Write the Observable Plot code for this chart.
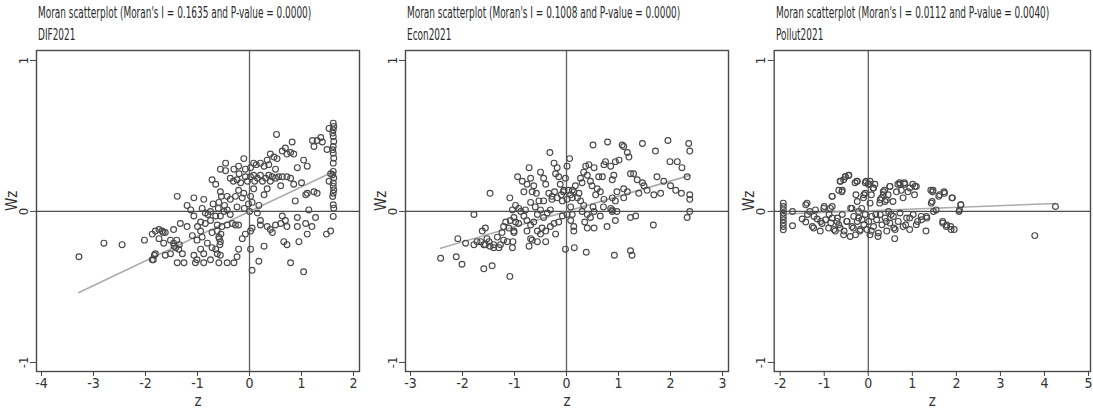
<!DOCTYPE html>
<html><head><meta charset="utf-8">
<script src="https://cdn.jsdelivr.net/npm/d3@7"></script>
<script src="https://cdn.jsdelivr.net/npm/@observablehq/plot@0.6"></script>
<style>
body{margin:0;background:#fff;}
#chart{position:relative;width:1093px;height:414px;overflow:hidden;background:#fff;font-family:"Liberation Sans Narrow","Arial Narrow","DejaVu Sans Condensed","Liberation Sans",sans-serif;}
.panel{position:absolute;top:0;}
.panel svg{overflow:visible;}
.title{position:absolute;top:2px;font-size:16px;line-height:22px;color:#2a2a2a;white-space:nowrap;transform-origin:0 0;}
</style></head><body><div id="chart"></div>
<script>
const panelNames = ["DIF2021", "Econ2021", "Pollut2021"];
const moranI = [0.1635, 0.1008, 0.0112];
const pValues = ["0.0000", "0.0000", "0.0040"];
const fitIntercepts = [0, 0, 0.005];
const xTicks = [[-4,-3,-2,-1,0,1,2], [-3,-2,-1,0,1,2,3], [-2,-1,0,1,2,3,4,5]];
const yTicks = [-1, 0, 1];
const xDomains = [[-4.096, 2.115], [-3.096, 3.115], [-2.136, 5.045]];
const yDomain = [-1.06, 1.066];

// [z, Wz]
const difPoints = [
[-3.28,-0.30],[-2.80,-0.21],[-2.45,-0.22],[-2.02,-0.19],[-1.87,-0.15],[-1.74,-0.12],[-1.66,-0.14],[-1.83,-0.29],[-1.85,-0.32],
[1.61,0.585],[1.62,0.563],[1.61,0.541],[1.60,0.519],[1.61,0.497],[1.62,0.464],[1.61,0.43],[1.60,0.408],[1.61,0.386],[1.62,0.353],[1.61,0.32],[1.61,0.265],[1.60,0.243],[1.62,0.221],[1.61,0.188],[1.61,0.166],[1.62,0.143],[1.61,0.121],[1.60,0.099],[1.61,0.044],[1.62,0.022],[1.61,-0.033],
[1.53,0.55],[1.49,0.41],[1.56,0.25],[1.53,0.20],[1.48,-0.15],[1.56,-0.13],[1.30,0.47],[1.37,0.49],[1.40,0.46],[1.24,0.43],[1.21,0.47],[0.52,0.51],[0.82,0.46],[0.69,0.42],[0.63,0.40],[0.72,0.38],[0.79,0.39],[0.85,0.38],[0.53,0.35],[0.47,0.36],[0.40,0.38],[0.34,0.34],[0.37,0.31],[0.28,0.30],[0.21,0.32],[0.13,0.31],[0.08,0.32],[0.02,0.29],[-0.08,0.28],[-0.11,0.35],[-0.21,0.30],[-0.30,0.28],[-0.37,0.22],[-0.31,0.20],[-0.24,0.21],[-0.17,0.19],[-0.08,0.23],[-0.04,0.20],[0.02,0.23],[0.08,0.24],[0.15,0.22],[0.21,0.24],[0.31,0.22],[0.37,0.24],[0.44,0.23],[0.50,0.22],[0.56,0.23],[0.63,0.23],[0.72,0.23],[0.79,0.22],[0.85,0.18],[0.92,0.29],[1.04,0.34],[1.11,0.30],[1.08,0.11],[1.24,0.13],[1.11,0.12],[0.88,0.07],[1.14,0.01],[1.27,-0.04],[1.08,-0.08],[0.92,-0.10],[1.11,-0.15],[0.79,-0.34],[1.04,-0.40],[0.66,-0.20],[0.72,-0.22],[0.44,-0.14],[0.34,-0.10],[0.21,-0.06],[0.15,-0.01],[0.18,0.04],[0.28,0.11],[0.34,0.15],[0.08,0.15],[0.02,0.10],[0.05,0.06],[-0.11,0.12],[-0.14,0.09],[-0.21,0.14],[-0.27,0.10],[-0.24,0.03],[-0.37,0.08],[-0.43,0.10],[-0.48,0.04],[-0.54,0.10],[-0.59,0.06],[-0.56,0.13],[-0.65,0.18],[-0.72,0.21],[-0.46,0.32],[-0.46,0.27],[-0.56,0.28],[-0.88,0.08],[-1.07,0.09],[-1.39,0.10],[-1.20,0.04],[-1.13,0.01],[-0.91,0.02],[-0.85,-0.01],[-0.75,0.00],[-0.65,-0.03],[-0.56,-0.03],[-0.49,0.00],[-0.43,0.01],[-0.37,-0.02],[-0.33,-0.08],[-0.27,-0.09],[-0.21,-0.09],[-0.43,-0.09],[-0.53,-0.10],[-0.62,-0.09],[-0.75,-0.06],[-0.85,-0.08],[-0.94,-0.07],[-1.07,-0.03],[-1.20,-0.10],[-1.33,-0.08],[-1.46,-0.12],[-1.62,-0.14],[-1.68,-0.13],[-1.81,-0.13],[-1.74,-0.18],[-1.65,-0.21],[-1.52,-0.19],[-1.46,-0.21],[-1.42,-0.24],[-1.36,-0.25],[-1.29,-0.28],[-1.26,-0.34],[-1.39,-0.34],[-1.52,-0.28],[-1.62,-0.29],[-1.81,-0.28],[-1.87,-0.32],[-1.07,-0.29],[-1.01,-0.32],[-1.04,-0.34],[-0.94,-0.25],[-0.88,-0.28],[-0.81,-0.21],[-0.72,-0.24],[-0.62,-0.28],[-0.56,-0.29],[-0.59,-0.34],[-0.43,-0.34],[-0.30,-0.34],[-0.24,-0.30],[-0.21,-0.25],[-0.14,-0.18],[-0.08,-0.15],[0.02,-0.13],[0.05,-0.11],[0.02,-0.25],[0.05,-0.39],[0.18,-0.33],[0.28,-0.23],[0.40,-0.12],[0.50,-0.09],[0.60,-0.08],[0.63,-0.03],[0.69,-0.06],[0.72,-0.10],[0.92,-0.04],[0.21,-0.09],[-0.94,-0.13],[-0.91,-0.17],[-1.01,-0.19],[-0.88,-0.34],[-0.75,-0.32],[-0.65,-0.25],[-0.56,-0.20],[-0.59,-0.17],[-0.62,-0.13],[-0.72,-0.14],
[-0.57,-0.22],[-0.58,-0.18],[-0.55,-0.15],[-1.45,-0.23],[-1.40,-0.19],[-1.35,-0.22],[-0.10,0.02],[0.00,0.00],[-0.02,0.05],[0.10,0.20],[0.40,0.20],[0.50,0.28],[0.60,0.17],[0.25,0.20],[-0.20,0.25],[-0.60,0.02],[-0.70,0.05],[-0.80,-0.02],[-1.00,-0.10],[-1.10,-0.16],[1.30,0.12],[1.00,0.19],[0.95,-0.20],[1.20,-0.10]
];

const econPoints = [
[-2.42,-0.31],[-2.12,-0.30],[-2.01,-0.35],[-2.09,-0.18],[-1.94,-0.21],[-1.78,-0.02],[-1.47,0.12],[-1.59,-0.38],[-1.43,-0.36],[-1.09,-0.43],[-1.78,-0.22],[-1.65,-0.20],[-1.62,-0.13],[-1.56,-0.11],[-1.53,-0.18],[-1.56,-0.22],[-1.47,-0.23],[-1.40,-0.22],[-1.30,-0.24],[-1.33,-0.17],[-1.24,-0.14],[-1.21,-0.19],[-1.14,-0.20],[-1.04,-0.24],[-1.03,-0.20],[-1.01,-0.14],[-1.08,-0.06],[-1.04,0.01],[-0.98,0.04],[-1.09,0.09],[-0.94,0.23],[-0.85,0.20],[-0.82,0.13],[-0.76,0.18],[-0.72,0.29],[-0.69,0.22],[-0.66,0.13],[-0.63,0.17],[-0.58,0.12],[-0.53,0.07],[-0.50,0.01],[-0.56,-0.02],[-0.63,-0.07],[-0.69,-0.09],[-0.76,-0.06],[-0.82,-0.03],[-0.88,0.00],[-0.92,-0.08],[-0.98,-0.07],[-1.17,-0.07],[-1.21,-0.10],[-1.11,-0.11],[-1.01,-0.13],[-0.76,-0.13],[-0.69,-0.18],[-0.72,-0.23],[-0.56,-0.13],[-0.47,-0.11],[-0.44,-0.04],[-0.37,-0.01],[-0.31,0.01],[-0.28,0.08],[-0.34,0.12],[-0.40,0.18],[-0.44,0.22],[-0.32,0.39],[-0.24,0.32],[-0.21,0.25],[-0.18,0.29],[-0.15,0.23],[-0.12,0.18],[-0.10,0.11],[-0.08,0.07],[-0.05,0.14],[-0.02,0.22],[0.01,0.30],[0.06,0.35],[0.01,0.08],[0.08,0.03],[0.11,-0.02],[0.14,0.13],[0.17,0.17],[0.21,0.09],[0.24,0.12],[0.27,0.22],[0.30,0.19],[0.33,0.26],[0.37,0.30],[0.40,0.24],[0.43,0.31],[0.46,0.20],[0.49,0.17],[0.53,0.29],[0.56,0.11],[0.59,0.15],[0.65,0.13],[0.69,0.23],[0.72,0.31],[0.62,0.23],[0.75,0.33],[0.85,0.30],[0.88,0.21],[0.91,0.24],[0.94,0.33],[1.01,0.34],[1.07,0.44],[1.10,0.43],[1.17,0.39],[1.20,0.36],[1.23,0.25],[1.29,0.25],[1.36,0.21],[1.46,0.19],[1.46,0.45],[1.71,0.40],[1.74,0.23],[1.87,0.20],[1.95,0.47],[1.99,0.33],[2.13,0.33],[2.22,0.29],[2.35,0.45],[2.37,0.40],[2.32,0.23],[2.37,0.11],[2.37,0.08],[2.37,0.00],[2.32,-0.04],[2.00,0.17],[2.10,0.14],[2.21,0.12],[1.81,0.12],[1.68,0.11],[1.39,0.12],[1.17,0.13],[1.10,0.09],[0.94,0.07],[0.88,0.09],[0.85,0.02],[0.88,0.00],[0.71,0.03],[0.53,0.00],[0.40,-0.02],[0.46,-0.04],[0.35,-0.07],[0.40,-0.11],[0.53,-0.11],[0.65,-0.03],[0.78,-0.10],[0.94,-0.06],[1.23,-0.04],[1.33,-0.03],[1.67,-0.09],[1.23,-0.26],[1.26,-0.29],[0.92,-0.29],[0.38,-0.27],[0.15,-0.24],[-0.02,-0.25],[0.14,-0.10],[0.08,-0.06],[0.01,-0.02],[-0.08,-0.03],[-0.15,-0.07],[-0.24,-0.08],[-0.31,-0.10],[-0.40,-0.13],[-0.50,-0.15],[-0.56,-0.20],[-0.66,-0.19],[0.14,-0.13],[0.51,0.03],[0.27,0.07],[0.51,0.44],[0.79,0.46],[-0.21,-0.15],[-0.40,-0.20],[-1.27,-0.22],[-1.40,-0.24],[-1.49,-0.20],[-1.59,-0.22],[-1.72,-0.20],[0.08,0.11],[0.11,0.09],[-0.28,0.10],[-0.23,0.13],[-0.18,0.09],[-0.06,0.13],[0.04,0.14],[0.11,0.14],[-0.50,0.26],[-0.44,0.07],[-0.79,0.01],[-0.92,0.02],[-1.01,-0.04],[-0.69,0.06],[-0.60,0.03],[0.30,0.00],[0.33,0.04],[0.72,0.08],[0.97,0.13],[1.10,0.15],[1.49,0.17],[1.55,0.14],[0.97,0.00],[0.88,0.01]
];

const pollutPoints = [
[-1.93,0.055],[-1.93,0.033],[-1.93,0.011],[-1.93,-0.011],[-1.93,-0.033],[-1.93,-0.055],[-1.93,-0.077],[-1.93,-0.099],[-1.93,-0.121],
[-1.72,0.00],[-1.72,-0.095],[-1.50,-0.05],[-1.42,-0.07],[-1.39,0.055],[-1.33,0.00],[-1.27,-0.10],[-1.24,-0.11],[-1.20,0.01],[-1.16,-0.05],[-1.09,-0.13],[-1.05,-0.08],[-1.01,0.02],[-0.97,-0.055],[-0.90,-0.11],[-0.86,0.02],[-0.82,-0.044],[-0.82,0.10],[-0.75,-0.13],[-0.71,-0.066],[-0.67,0.14],[-0.64,0.20],[-0.60,0.13],[-0.56,0.21],[-0.52,0.23],[-0.45,0.24],[-0.56,-0.155],[-0.64,-0.11],[-0.49,-0.066],[-0.41,-0.166],[-0.37,0.02],[-0.34,-0.11],[-0.30,0.19],[-0.28,0.11],[-0.26,0.20],[-0.22,-0.044],[-0.19,-0.13],[-0.15,0.02],[-0.11,0.09],[-0.07,0.12],[-0.05,0.20],[0.00,0.18],[0.04,0.055],[0.04,0.20],[0.07,0.11],[0.07,-0.13],[0.11,0.155],[0.15,0.18],[0.17,-0.02],[0.22,-0.166],[0.26,0.055],[0.30,0.09],[0.34,0.11],[0.37,0.14],[0.41,0.077],[0.41,-0.066],[0.45,0.11],[0.49,0.166],[0.52,-0.02],[0.56,0.066],[0.58,-0.11],[0.60,-0.18],[0.64,0.13],[0.67,0.18],[0.71,0.19],[0.75,0.14],[0.79,0.09],[0.82,0.19],[0.85,-0.09],[0.90,0.13],[0.94,-0.044],[1.01,0.18],[1.05,0.11],[1.09,0.166],[1.12,-0.066],[1.20,-0.033],[1.31,-0.13],[1.33,-0.044],[1.42,0.14],[1.45,0.066],[1.46,0.13],[1.48,0.00],[1.54,0.01],[1.60,0.10],[1.69,-0.066],[1.72,0.13],[1.78,-0.09],[1.87,-0.10],[1.91,0.09],[1.95,-0.12],[2.06,0.00],[2.10,0.044],[3.78,-0.16],[4.25,0.033],
[-1.42,0.044],[-1.38,-0.02],[-1.23,-0.033],[-1.08,-0.066],[-1.00,0.033],[-0.89,-0.02],[-0.85,-0.077],[-0.82,0.033],[-0.78,-0.12],[-0.70,-0.044],[-0.67,-0.088],[-0.59,-0.02],[-0.55,-0.13],[-0.48,-0.066],[-0.40,0.022],[-0.37,-0.10],[-0.33,-0.033],[-0.29,-0.155],[-0.25,-0.066],[-0.22,0.00],[-0.18,-0.12],[-0.14,-0.055],[-0.10,-0.088],[-0.07,-0.02],[-0.03,-0.12],[0.01,-0.066],[0.04,-0.155],[0.08,-0.033],[0.12,-0.10],[0.19,-0.055],[0.23,-0.143],[0.27,-0.02],[0.31,-0.088],[0.38,-0.044],[0.42,-0.13],[0.46,0.00],[0.49,-0.077],[0.57,-0.033],[0.61,-0.12],[0.68,-0.066],[0.72,-0.01],[0.79,-0.10],[0.87,-0.044],[0.94,-0.12],[1.02,-0.02],[1.09,-0.088],[1.21,-0.055],[1.32,-0.033],[1.69,-0.077],[1.77,-0.10],[1.88,-0.12],[2.10,0.044],[2.07,0.01],
[-0.63,0.20],[-0.52,0.23],[-0.44,0.24],[-0.82,0.10],[-0.59,0.14],[-0.25,0.20],[-0.07,0.19],[0.04,0.18],[0.12,0.155],[0.34,0.13],[0.49,0.166],[0.72,0.18],[0.83,0.18],[0.94,0.155],[1.06,0.166],[1.47,0.14],[1.62,0.11],[1.73,0.12],[1.90,0.09],[1.43,0.055],[0.27,0.077],[0.38,0.066],[-0.25,0.066],[-0.10,0.11]
];

const panelData = [difPoints, econPoints, pollutPoints];

// layout of the three panels
const panelLeft = [0, 369, 735];
const panelWidth = [365, 361, 358];
const marginLeft = [36, 36, 38.7];
const marginRight = [6, 2, 3];
const titleWidth = 273;
const fontStack = '"Liberation Sans Narrow","Arial Narrow","DejaVu Sans Condensed","Liberation Sans",sans-serif';

const chart = document.getElementById("chart");

panelData.forEach((pts, i) => {
  const zs = pts.map(d => d[0]);
  const zMin = d3.min(zs), zMax = d3.max(zs);
  const fit = [zMin, zMax].map(z => ({z, wz: fitIntercepts[i] + moranI[i] * z}));

  const svg = Plot.plot({
    width: panelWidth[i],
    height: 414,
    marginTop: 50,
    marginBottom: 43,
    marginLeft: marginLeft[i],
    marginRight: marginRight[i],
    x: {domain: xDomains[i]},
    y: {domain: yDomain},
    style: {fontFamily: fontStack, fontSize: "14px", color: "#333", background: "transparent", overflow: "visible"},
    marks: [
      Plot.ruleX([0], {stroke: "#5e5e5e", strokeWidth: 1.3}),
      Plot.ruleY([0], {stroke: "#4e4e4e", strokeWidth: 1.3}),
      Plot.line(fit, {x: "z", y: "wz", stroke: "#ababab", strokeWidth: 1.6}),
      Plot.dot(pts, {x: d => d[0], y: d => d[1], r: 2.9, stroke: "#4a4a4a", strokeWidth: 1.15, fill: "none"}),
      Plot.frame({stroke: "#4a4a4a", strokeWidth: 1.4}),
      Plot.axisX({ticks: xTicks[i], tickSize: 5, tickPadding: 2, tickFormat: d => String(d), fontSize: 14, stroke: "#444", label: null}),
      Plot.axisY({ticks: yTicks, tickSize: 6, tickRotate: -90, tickFormat: d => String(d), fontSize: 13, stroke: "#444", label: null}),
      Plot.text(["z"], {text: d => d, frameAnchor: "bottom", dy: 34, fontSize: 15, fill: "#333"}),
      Plot.text(["Wz"], {text: d => d, frameAnchor: "left", dx: -20, rotate: -90, lineAnchor: "bottom", fontSize: 15, fill: "#333"})
    ]
  });

  const wrap = document.createElement("div");
  wrap.className = "panel";
  wrap.style.left = panelLeft[i] + "px";
  wrap.appendChild(svg);
  chart.appendChild(wrap);

  const title = document.createElement("div");
  title.className = "title";
  title.style.left = (panelLeft[i] + marginLeft[i] + 2) + "px";
  title.innerHTML = `Moran scatterplot (Moran's I = ${moranI[i].toFixed(4)} and P-value = ${pValues[i]})<br>${panelNames[i]}`;
  chart.appendChild(title);
  const w = title.scrollWidth;
  if (w > 0) title.style.transform = `scaleX(${titleWidth / w})`;
});
</script>
</body></html>
